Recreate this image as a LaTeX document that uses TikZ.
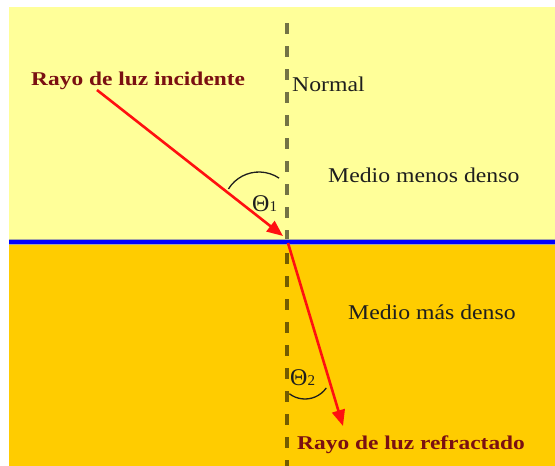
\documentclass[tikz,border=0pt]{standalone}
\usepackage{fontspec}
\setmainfont{Liberation Serif}
\usetikzlibrary{arrows.meta}
\definecolor{lightyel}{HTML}{FFFF99}
\definecolor{deeporange}{HTML}{FFCC00}
\definecolor{raycol}{HTML}{FF1010}
\definecolor{labred}{HTML}{7A1012}
\definecolor{txtcol}{HTML}{1E1E1E}
\tikzset{
  medtext/.style={font=\fontsize{21}{24}\selectfont, text=txtcol, inner sep=0pt, anchor=base west, xscale=1.13, transform shape},
  raylabel/.style={font=\bfseries\fontsize{19.5}{23}\selectfont, text=labred, inner sep=0pt, anchor=base west, xscale=1.2, transform shape},
  angtext/.style={font=\fontsize{24}{26}\selectfont, text=txtcol, inner sep=0pt, anchor=base west},
  ray/.style={draw=raycol, line width=2.6pt, -{Triangle[length=16pt,width=13pt]}},
  normalline/.style={draw=black, opacity=0.55, line width=3.6pt, dash pattern=on 11pt off 12pt},
  anglearc/.style={draw=txtcol, line width=1.3pt},
}
\begin{document}
\begin{tikzpicture}[x=1pt,y=-1pt]
\useasboundingbox (0,0) rectangle (555,466);
% media
\fill[lightyel] (9,7) rectangle (555,239);
\fill[deeporange] (9,239) rectangle (555,466);
% normal line
\coordinate (ntop) at (287,23);
\coordinate (nbot) at (287,466);
\draw[normalline] (ntop) -- (nbot);
% interface
\coordinate (ileft) at (9,241.5);
\coordinate (iright) at (555,241.5);
\draw[line width=6pt, color=black!35] (ileft) -- (iright);
\draw[line width=4pt, color=blue] (ileft) -- (iright);
% rays
\coordinate (incA) at (97,90);
\coordinate (incB) at (283,236);
\coordinate (refA) at (288,243);
\coordinate (refB) at (343,426);
\draw[ray] (incA) -- (incB);
\draw[ray] (refA) -- (refB);
% angle arcs
\coordinate (c1) at (259,208);
\coordinate (c2) at (305,373);
\draw[anglearc] (c1) ++(-148:36) arc[start angle=-148, end angle=-56, radius=36];
\draw[anglearc] (c2) ++(127:26) arc[start angle=127, end angle=35, radius=26];
% labels
\node[raylabel] (linc) at (31,85) {Rayo de luz incidente};
\node[raylabel] (lref) at (297,449) {Rayo de luz refractado};
\node[medtext] (lnorm) at (292,91) {Normal};
\node[medtext] (lmenos) at (328,182) {Medio menos denso};
\node[medtext] (lmas) at (348,319) {Medio más denso};
\node[angtext] (th1) at (252,211) {Θ{\fontsize{15}{16}\selectfont 1}};
\node[angtext] (th2) at (290,385) {Θ{\fontsize{15}{16}\selectfont 2}};
\end{tikzpicture}
\end{document}
